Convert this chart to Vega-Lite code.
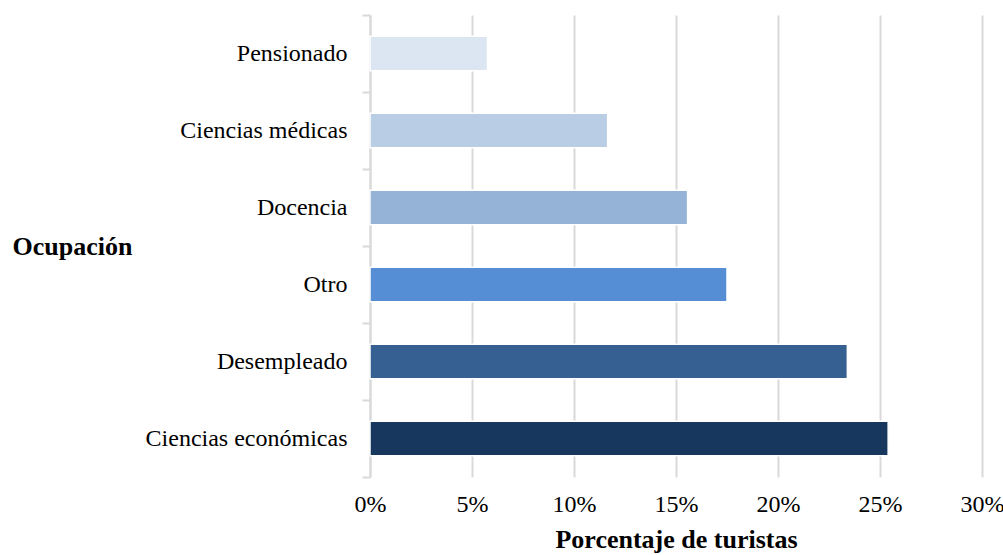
{
  "$schema": "https://vega.github.io/schema/vega-lite/v6.json",
  "width": 612,
  "height": 462,
  "autosize": "none",
  "padding": {"left": 370, "top": 15, "right": 21, "bottom": 78},
  "background": "white",
  "config": {
    "view": {"stroke": null},
    "font": "Liberation Serif"
  },
  "data": {
    "values": [
      {"ocupacion": "Pensionado", "pct": 5.76},
      {"ocupacion": "Ciencias médicas", "pct": 11.65},
      {"ocupacion": "Docencia", "pct": 15.57},
      {"ocupacion": "Otro", "pct": 17.5},
      {"ocupacion": "Desempleado", "pct": 23.4},
      {"ocupacion": "Ciencias económicas", "pct": 25.4}
    ]
  },
  "mark": {"type": "bar", "height": {"band": 0.45}, "stroke": "white", "strokeWidth": 1.5},
  "encoding": {
    "y": {
      "field": "ocupacion",
      "type": "nominal",
      "sort": null,
      "scale": {"paddingInner": 0, "paddingOuter": 0},
      "axis": {
        "title": "Ocupación",
        "titleFont": "Liberation Serif",
        "titleFontSize": 26,
        "titleFontWeight": "bold",
        "titleColor": "black",
        "titleAngle": 0,
        "titleAlign": "left",
        "titleBaseline": "middle",
        "titleX": -358,
        "titleY": 231,
        "labelFont": "Liberation Serif",
        "labelFontSize": 24,
        "labelColor": "black",
        "labelPadding": 15,
        "labelLimit": 0,
        "tickBand": "extent",
        "tickSize": 8,
        "tickColor": "#d9d9d9",
        "tickWidth": 2,
        "domainColor": "#d9d9d9",
        "domainWidth": 2,
        "grid": false
      }
    },
    "x": {
      "field": "pct",
      "type": "quantitative",
      "scale": {"domain": [0, 30]},
      "axis": {
        "title": "Porcentaje de turistas",
        "titleFont": "Liberation Serif",
        "titleFontSize": 26,
        "titleFontWeight": "bold",
        "titleColor": "black",
        "titlePadding": 10,
        "values": [0, 5, 10, 15, 20, 25, 30],
        "labelExpr": "datum.value + '%'",
        "labelFont": "Liberation Serif",
        "labelFontSize": 24,
        "labelColor": "black",
        "labelPadding": 15,
        "labelFlush": false,
        "labelOverlap": false,
        "ticks": false,
        "domain": false,
        "grid": true,
        "gridColor": "#d9d9d9",
        "gridWidth": 2
      }
    },
    "color": {
      "field": "ocupacion",
      "type": "nominal",
      "legend": null,
      "scale": {
        "domain": ["Pensionado", "Ciencias médicas", "Docencia", "Otro", "Desempleado", "Ciencias económicas"],
        "range": ["#dce6f2", "#b9cde5", "#95b3d7", "#558ed5", "#376092", "#17375e"]
      }
    }
  }
}
